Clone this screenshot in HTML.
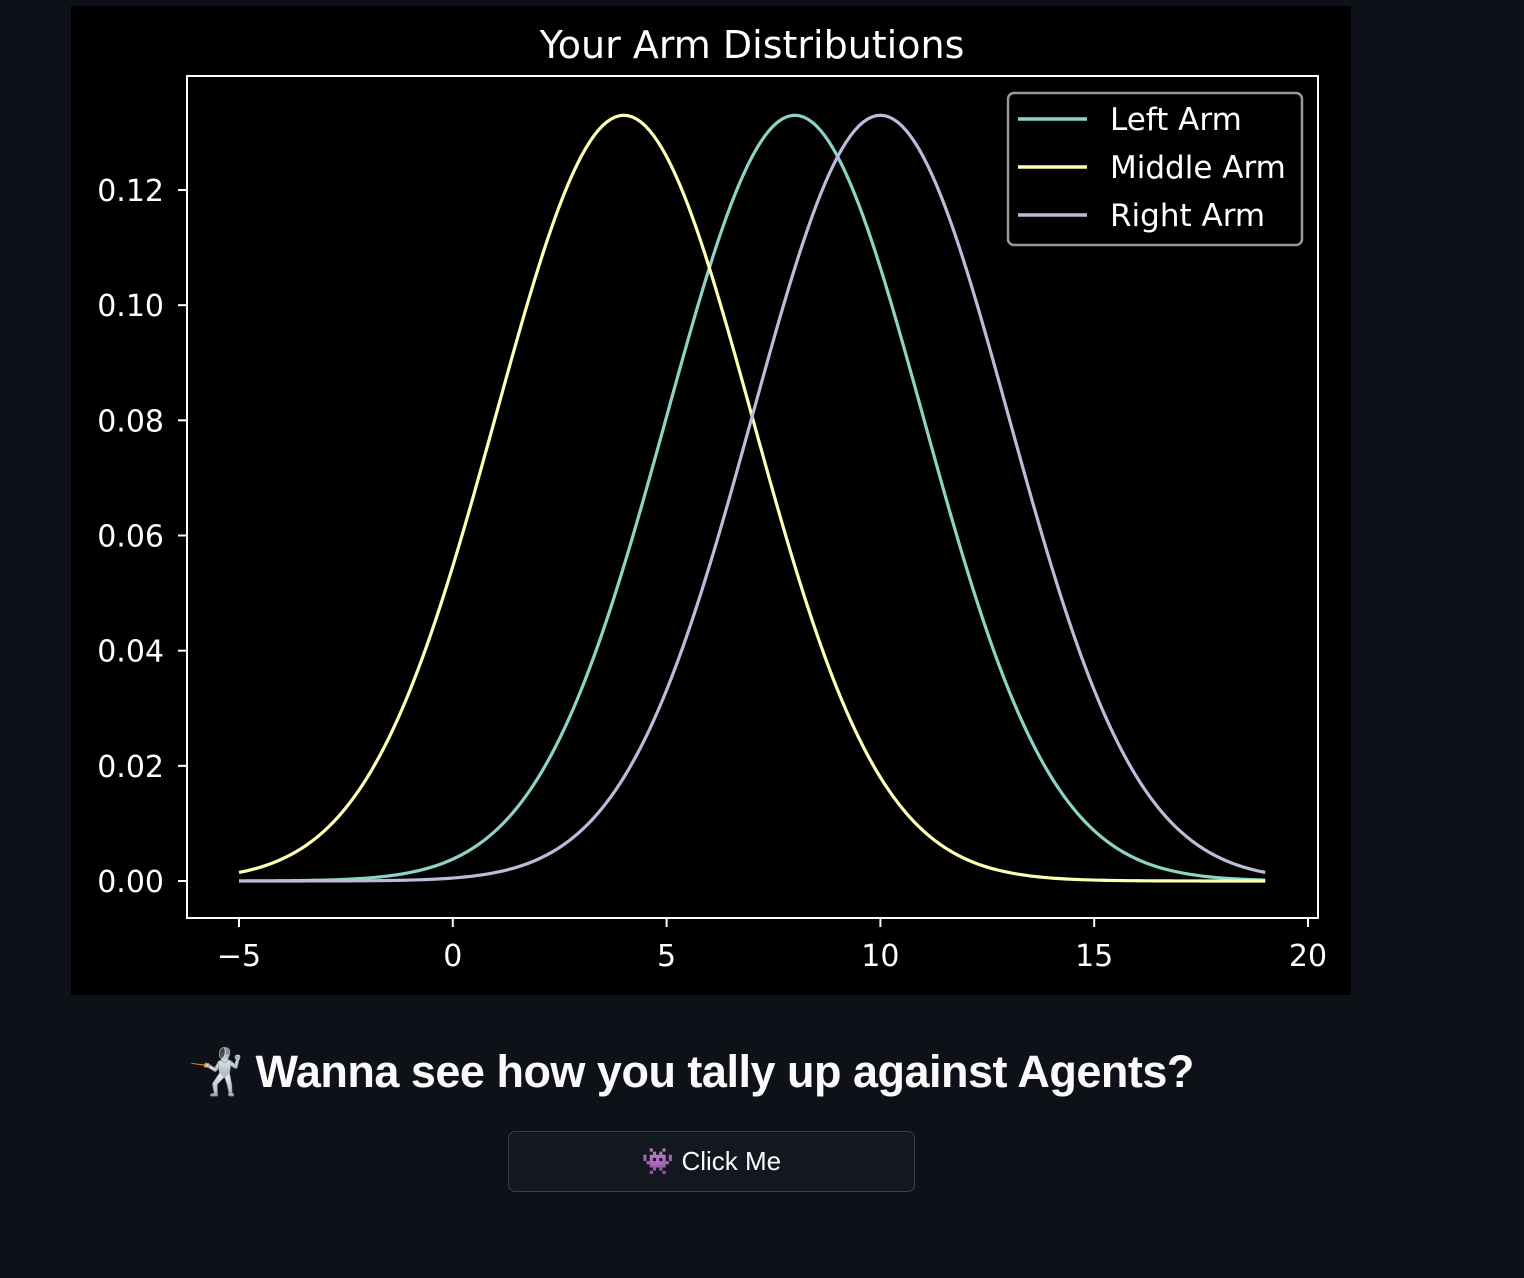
<!DOCTYPE html>
<html><head><meta charset="utf-8">
<style>
html,body{margin:0;padding:0;background:#0e1117;width:1524px;height:1278px;overflow:hidden;}
#fig{position:absolute;left:71px;top:6px;width:1280px;height:989px;background:#000;}
#heading{position:absolute;left:188px;top:1045px;font-family:"Liberation Sans","DejaVu Sans",sans-serif;font-weight:bold;font-size:45px;color:#fafafa;white-space:nowrap;letter-spacing:-0.5px;}
#btn{position:absolute;left:508px;top:1131px;width:407px;height:61px;box-sizing:border-box;border:1px solid #3b3e48;border-radius:7px;background:#131720;color:#fafafa;font-family:"Liberation Sans","DejaVu Sans",sans-serif;font-size:26px;display:flex;align-items:center;justify-content:center;}
</style></head><body>
<div id="fig">
<svg id="chart" width="1280" height="989" xmlns="http://www.w3.org/2000/svg"></svg>
</div>
<div id="heading">🤺 Wanna see how you tally up against Agents?</div>
<div id="btn">👾 Click Me</div>
<script>
const seriesNames = ["Left Arm", "Middle Arm", "Right Arm"];
const seriesMeans = [8, 4, 10];
const seriesStds = [3, 3, 3];
const seriesColors = ["#8dd3c7", "#ffffb3", "#bebada"];
const xRange = [-5, 19];
const xTicks = [-5, 0, 5, 10, 15, 20];
const xTickLabels = ["\u22125", "0", "5", "10", "15", "20"];
const yTicks = [0, 0.02, 0.04, 0.06, 0.08, 0.10, 0.12];
const yTickLabels = ["0.00", "0.02", "0.04", "0.06", "0.08", "0.10", "0.12"];

const ox = 71, oy = 6;
const svg = document.getElementById('chart');
const NS = "http://www.w3.org/2000/svg";
function X(v){ return 239 + (v + 5) * (1308 - 239) / 25 - ox; }
function Y(v){ return 881 - v * (881 - 190) / 0.12 - oy; }
function mk(tag, attrs){ const e = document.createElementNS(NS, tag); for (const k in attrs) e.setAttribute(k, attrs[k]); svg.appendChild(e); return e; }
const font = '"DejaVu Sans","Liberation Sans",sans-serif';

let t = mk('text', {x: 752 - ox, y: 58 - oy, fill: '#fff', 'font-size': 38, 'font-family': font, 'text-anchor': 'middle'});
t.textContent = 'Your Arm Distributions';



for (let s = 0; s < seriesNames.length; s++) {
  let d = '';
  const n = 240;
  for (let i = 0; i <= n; i++) {
    const x = xRange[0] + (xRange[1] - xRange[0]) * i / n;
    const y = Math.exp(-0.5 * Math.pow((x - seriesMeans[s]) / seriesStds[s], 2)) / (seriesStds[s] * Math.sqrt(2 * Math.PI));
    d += (i ? 'L' : 'M') + X(x).toFixed(2) + ',' + Y(y).toFixed(2);
  }
  const p = mk('path', {d: d, fill: 'none', stroke: seriesColors[s], 'stroke-width': 3.2});
  
  
}

const fr = mk('rect', {x: 187 - ox, y: 76 - oy, width: 1131, height: 842, fill: 'none', stroke: '#fff', 'stroke-width': 2});



xTicks.forEach((v, i) => {
  mk('line', {x1: X(v), x2: X(v), y1: 918 - oy, y2: 927 - oy, stroke: '#fff', 'stroke-width': 2});
  const tx = mk('text', {x: X(v), y: 966 - oy, fill: '#fff', 'font-size': 30, 'font-family': font, 'text-anchor': 'middle'});
  tx.textContent = xTickLabels[i];
  
  
});
yTicks.forEach((v, i) => {
  mk('line', {x1: 178 - ox, x2: 187 - ox, y1: Y(v), y2: Y(v), stroke: '#fff', 'stroke-width': 2});
  const ty = mk('text', {x: 164 - ox, y: Y(v) + 11, fill: '#fff', 'font-size': 30, 'font-family': font, 'text-anchor': 'end'});
  ty.textContent = yTickLabels[i];
  
  
});

const lg = mk('rect', {x: 1008 - ox, y: 93 - oy, width: 294, height: 152, rx: 6, fill: '#000', stroke: '#999', 'stroke-width': 2.5});


seriesNames.forEach((nm, i) => {
  const yy = 119 + i * 48 - oy;
  mk('line', {x1: 1018 - ox, x2: 1087 - ox, y1: yy, y2: yy, stroke: seriesColors[i], 'stroke-width': 3.5});
  const lt = mk('text', {x: 1110 - ox, y: yy + 11, fill: '#fff', 'font-size': 31, 'font-family': font});
  lt.textContent = nm;
  
  
});
</script>
</body></html>
